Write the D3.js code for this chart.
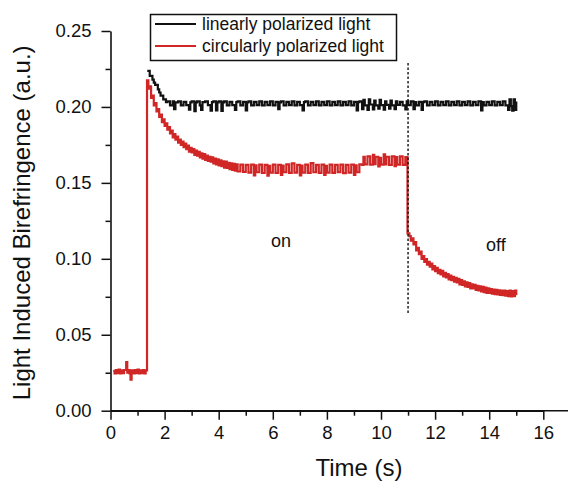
<!DOCTYPE html>
<html>
<head>
<meta charset="utf-8">
<script src="https://cdn.jsdelivr.net/npm/d3@7"></script>
<style>
  body { margin: 0; background: #fff; }
  text { font-family: "Liberation Sans", Arial, sans-serif; fill: #111; }
</style>
</head>
<body>
<div id="chart"></div>
<script>
// time (s), birefringence (a.u.)
const linearData = [
    [1.36, .2237], [1.45, .2205], [1.55, .2180], [1.6, .2160], [1.65, .2145], [1.75, .2115],
    [1.8, .2095], [1.85, .2075], [1.95, .2050], [2.05, .2032], [2.1, .2036], [2.2, .2010],
    [2.3, .2036], [2.35, .1985], [2.4, .2030], [2.5, .2036], [2.6, .2010], [2.7, .2034],
    [2.8, .2012], [2.9, .1982], [2.95, .2030], [3.0, .2036], [3.1, .1972], [3.15, .2030],
    [3.2, .2036], [3.3, .2010], [3.35, .1980], [3.4, .2032], [3.5, .2036], [3.6, .2012],
    [3.7, .1976], [3.75, .2032], [3.8, .2036], [3.9, .1978], [3.95, .2030], [4.0, .2036],
    [4.1, .1974], [4.15, .2030], [4.2, .2036], [4.3, .2010], [4.4, .2034], [4.5, .2012],
    [4.6, .1980], [4.65, .2032], [4.7, .2036], [4.8, .2010], [4.9, .2034], [5.0, .1978],
    [5.05, .2030], [5.1, .2036], [5.2, .2010], [5.3, .2034], [5.4, .2012], [5.5, .2036],
    [5.6, .2010], [5.7, .2034], [5.8, .2012], [5.9, .2036], [6.0, .2010], [6.1, .2034],
    [6.2, .1986], [6.25, .2030], [6.3, .2036], [6.4, .2010], [6.5, .2034], [6.6, .2012],
    [6.7, .2036], [6.8, .2010], [6.9, .2034], [7.0, .2012], [7.1, .1978], [7.15, .2032],
    [7.2, .2036], [7.3, .2010], [7.4, .2034], [7.5, .2012], [7.6, .2036], [7.7, .2010],
    [7.8, .2034], [7.9, .2012], [8.0, .2036], [8.1, .2010], [8.2, .2034], [8.3, .2012],
    [8.4, .2036], [8.5, .2010], [8.6, .2034], [8.7, .2012], [8.8, .2036], [8.9, .2010],
    [9.0, .2034], [9.1, .1978], [9.15, .2032], [9.2, .2036], [9.3, .1986], [9.35, .2046],
    [9.4, .2010], [9.5, .1980], [9.55, .2050], [9.6, .2016], [9.7, .1984], [9.75, .2042],
    [9.8, .2010], [9.9, .1988], [9.95, .2046], [10.0, .2012], [10.1, .1982], [10.15, .2036],
    [10.2, .2014], [10.3, .1988], [10.35, .2042], [10.4, .2010], [10.5, .1986], [10.55, .2036],
    [10.6, .2014], [10.7, .2034], [10.8, .2010], [10.9, .1984], [10.95, .2036], [11.0, .2012],
    [11.1, .2036], [11.2, .1986], [11.25, .2032], [11.3, .2010], [11.4, .2034], [11.5, .1980],
    [11.55, .2032], [11.6, .2036], [11.7, .2010], [11.8, .2034], [11.9, .2012], [12.0, .2036],
    [12.1, .2010], [12.2, .2034], [12.3, .2012], [12.4, .2036], [12.5, .2010], [12.6, .2034],
    [12.7, .2012], [12.8, .2036], [12.9, .2010], [13.0, .2034], [13.1, .2012], [13.2, .2036],
    [13.3, .2010], [13.4, .2034], [13.5, .2012], [13.6, .2036], [13.7, .1978], [13.75, .2032],
    [13.8, .2010], [13.9, .2034], [14.0, .2012], [14.1, .2036], [14.2, .2010], [14.3, .2034],
    [14.4, .2012], [14.5, .2036], [14.6, .2010], [14.7, .1980], [14.75, .2050], [14.8, .2006],
    [14.85, .1976], [14.9, .2050], [14.95, .1980], [15.0, .2036]
];

const circularData = [
    [0.1, .0262], [0.15, .0245], [0.2, .0268], [0.25, .0248], [0.3, .0270], [0.35, .0246],
    [0.4, .0266], [0.45, .0248], [0.5, .0268], [0.58, .0320], [0.62, .0250], [0.66, .0268],
    [0.7, .0246], [0.74, .0205], [0.78, .0266], [0.85, .0246], [0.9, .0268], [0.95, .0248],
    [1.0, .0270], [1.05, .0246], [1.1, .0266], [1.15, .0248], [1.2, .0268], [1.25, .0246],
    [1.3, .0266], [1.35, .2175], [1.4, .2120], [1.45, .2135], [1.5, .2060], [1.55, .2075],
    [1.6, .2010], [1.65, .2025], [1.7, .1970], [1.75, .1985], [1.8, .1935], [1.85, .1950],
    [1.9, .1900], [1.95, .1918], [2.0, .1875], [2.05, .1892], [2.1, .1850], [2.15, .1868],
    [2.2, .1825], [2.25, .1845], [2.3, .1800], [2.35, .1822], [2.4, .1785], [2.45, .1805],
    [2.5, .1765], [2.55, .1785], [2.6, .1750], [2.65, .1772], [2.7, .1735], [2.75, .1758],
    [2.8, .1722], [2.85, .1745], [2.9, .1705], [2.95, .1730], [3.0, .1700], [3.05, .1722],
    [3.1, .1685], [3.15, .1712], [3.2, .1680], [3.25, .1705], [3.3, .1668], [3.35, .1695],
    [3.4, .1660], [3.45, .1690], [3.5, .1652], [3.55, .1680], [3.6, .1645], [3.65, .1672],
    [3.7, .1640], [3.75, .1668], [3.8, .1628], [3.85, .1660], [3.9, .1622], [3.95, .1655],
    [4.0, .1615], [4.05, .1648], [4.1, .1610], [4.15, .1642], [4.2, .1600], [4.25, .1640],
    [4.3, .1598], [4.35, .1632], [4.4, .1590], [4.45, .1628], [4.5, .1585], [4.55, .1625],
    [4.6, .1580], [4.65, .1622], [4.7, .1575], [4.8, .1620], [4.9, .1572], [5.0, .1618],
    [5.1, .1568], [5.2, .1620], [5.3, .1550], [5.35, .1615], [5.4, .1570], [5.5, .1620],
    [5.6, .1565], [5.7, .1618], [5.8, .1548], [5.85, .1612], [5.9, .1568], [6.0, .1620],
    [6.1, .1566], [6.2, .1618], [6.3, .1552], [6.35, .1614], [6.4, .1570], [6.5, .1622],
    [6.6, .1566], [6.7, .1628], [6.8, .1568], [6.9, .1618], [7.0, .1550], [7.05, .1614],
    [7.1, .1568], [7.2, .1620], [7.3, .1566], [7.4, .1630], [7.5, .1570], [7.6, .1618],
    [7.7, .1566], [7.8, .1620], [7.9, .1552], [7.95, .1612], [8.0, .1568], [8.1, .1620],
    [8.2, .1566], [8.3, .1618], [8.4, .1570], [8.5, .1620], [8.6, .1564], [8.7, .1618],
    [8.8, .1568], [8.9, .1620], [9.0, .1552], [9.05, .1615], [9.1, .1570], [9.2, .1622],
    [9.3, .1618], [9.35, .1672], [9.4, .1622], [9.5, .1675], [9.6, .1620], [9.7, .1685],
    [9.75, .1624], [9.8, .1672], [9.9, .1608], [9.95, .1665], [10.0, .1620], [10.1, .1688],
    [10.15, .1622], [10.2, .1672], [10.3, .1618], [10.4, .1675], [10.5, .1610], [10.55, .1670],
    [10.6, .1620], [10.7, .1674], [10.8, .1618], [10.9, .1670], [10.98, .1167], [11.05, .1150],
    [11.1, .1120], [11.15, .1135], [11.2, .1095], [11.25, .1110], [11.3, .1055], [11.35, .1072],
    [11.4, .1030], [11.45, .1048], [11.5, .1000], [11.55, .1018], [11.6, .0980], [11.65, .0998],
    [11.7, .0962], [11.75, .0980], [11.8, .0948], [11.85, .0968], [11.9, .0930], [11.95, .0952],
    [12.0, .0918], [12.05, .0940], [12.1, .0905], [12.15, .0928], [12.2, .0898], [12.25, .0920],
    [12.3, .0885], [12.35, .0908], [12.4, .0878], [12.45, .0900], [12.5, .0865], [12.55, .0890],
    [12.6, .0860], [12.65, .0882], [12.7, .0850], [12.75, .0875], [12.8, .0845], [12.85, .0868],
    [12.9, .0832], [12.95, .0860], [13.0, .0828], [13.05, .0852], [13.1, .0818], [13.15, .0845],
    [13.2, .0815], [13.25, .0840], [13.3, .0805], [13.35, .0832], [13.4, .0805], [13.45, .0828],
    [13.5, .0795], [13.55, .0822], [13.6, .0792], [13.65, .0818], [13.7, .0785], [13.75, .0815],
    [13.8, .0780], [13.85, .0810], [13.9, .0776], [13.95, .0805], [14.0, .0775], [14.05, .0800],
    [14.1, .0770], [14.15, .0798], [14.2, .0768], [14.25, .0795], [14.3, .0765], [14.35, .0792],
    [14.4, .0762], [14.45, .0790], [14.5, .0760], [14.55, .0790], [14.6, .0758], [14.65, .0788],
    [14.7, .0755], [14.75, .0790], [14.8, .0752], [14.85, .0788], [14.9, .0755], [14.95, .0790],
    [15.0, .0760]
];

const xTicks = [0, 2, 4, 6, 8, 10, 12, 14, 16];
const xMinorTicks = [1, 3, 5, 7, 9, 11, 13, 15];
const yTicks = [0, 0.05, 0.10, 0.15, 0.20, 0.25];
const yMinorTicks = [0.025, 0.075, 0.125, 0.175, 0.225];

const seriesNames = ["linearly polarized light", "circularly polarized light"];
const seriesColors = ["#111111", "#d02626"];
const switchTime = 11;
const switchSpan = [0.063, 0.229];
const phaseLabels = [{ text: "on", t: 6.3, v: 0.108 }, { text: "off", t: 14.25, v: 0.105 }];

const width = 568, height = 482;

const svg = d3.select("#chart").append("svg")
    .attr("width", width)
    .attr("height", height);

const x = d3.scaleLinear().domain([0, 16]).range([110.5, 543.3]);
const y = d3.scaleLinear().domain([0, 0.25]).range([410.7, 31]);

// axes
svg.append("g")
    .attr("transform", "translate(0," + y(0) + ")")
    .call(d3.axisBottom(x).tickValues(xTicks).tickSize(9).tickSizeOuter(0).tickPadding(6).tickFormat(d3.format("d")));

svg.append("g")
    .attr("transform", "translate(0," + y(0) + ")")
    .call(d3.axisBottom(x).tickValues(xMinorTicks).tickSize(5).tickFormat(""))
    .call(g => g.select(".domain").remove());

svg.append("g")
    .attr("transform", "translate(" + x(0) + ",0)")
    .call(d3.axisLeft(y).tickValues(yTicks).tickSize(9).tickSizeOuter(0).tickPadding(10).tickFormat(d3.format(".2f")));

svg.append("g")
    .attr("transform", "translate(" + x(0) + ",0)")
    .call(d3.axisLeft(y).tickValues(yMinorTicks).tickSize(5).tickFormat(""))
    .call(g => g.select(".domain").remove());

// x axis line runs on to the right edge
svg.append("line")
    .attr("x1", x(0)).attr("x2", width)
    .attr("y1", y(0)).attr("y2", y(0))
    .attr("stroke", "#111").attr("stroke-width", 1.6);

svg.selectAll(".domain").attr("stroke", "#111").attr("stroke-width", 1.6);
svg.selectAll(".tick line").attr("stroke", "#111").attr("stroke-width", 1.5);
svg.selectAll(".tick text")
    .attr("font-family", "Liberation Sans, Arial, sans-serif")
    .attr("font-size", 18.5)
    .attr("fill", "#111");

// axis titles
svg.append("text")
    .attr("transform", "translate(30," + ((y(0) + y(0.25)) / 2 + 2) + ") rotate(-90)")
    .attr("text-anchor", "middle")
    .attr("font-size", 24)
    .text("Light Induced Birefringence (a.u.)");

svg.append("text")
    .attr("x", 359)
    .attr("y", 476)
    .attr("text-anchor", "middle")
    .attr("font-size", 24)
    .text("Time (s)");

// data lines
const line = d3.line()
    .x(d => x(d[0]))
    .y(d => y(d[1]))
    .curve(d3.curveStepAfter);

svg.append("path")
    .datum(linearData)
    .attr("fill", "none")
    .attr("stroke", seriesColors[0])
    .attr("stroke-width", 2.2)
    .attr("d", line);

svg.append("path")
    .datum(circularData)
    .attr("fill", "none")
    .attr("stroke", seriesColors[1])
    .attr("stroke-width", 2.2)
    .attr("d", line);

// light switched off
svg.append("line")
    .attr("x1", x(switchTime)).attr("x2", x(switchTime))
    .attr("y1", y(switchSpan[1])).attr("y2", y(switchSpan[0]))
    .attr("stroke", "#111")
    .attr("stroke-width", 1.4)
    .attr("stroke-dasharray", "2.5,2");

svg.selectAll(".phase")
    .data(phaseLabels)
    .enter().append("text")
    .attr("class", "phase")
    .attr("x", d => x(d.t))
    .attr("y", d => y(d.v))
    .attr("text-anchor", "middle")
    .attr("font-size", 18)
    .text(d => d.text);

// legend
const legend = svg.append("g");

legend.append("rect")
    .attr("x", 150.5).attr("y", 14.5)
    .attr("width", 246).attr("height", 46)
    .attr("fill", "#fff")
    .attr("stroke", "#111")
    .attr("stroke-width", 1.5);

seriesNames.forEach((name, i) => {
    legend.append("line")
        .attr("x1", 155).attr("x2", 196)
        .attr("y1", 24 + i * 22).attr("y2", 24 + i * 22)
        .attr("stroke", seriesColors[i])
        .attr("stroke-width", 1.8);

    legend.append("text")
        .attr("x", 202)
        .attr("y", 30 + i * 22)
        .attr("font-size", 17.5)
        .text(name);
});
</script>
</body>
</html>
